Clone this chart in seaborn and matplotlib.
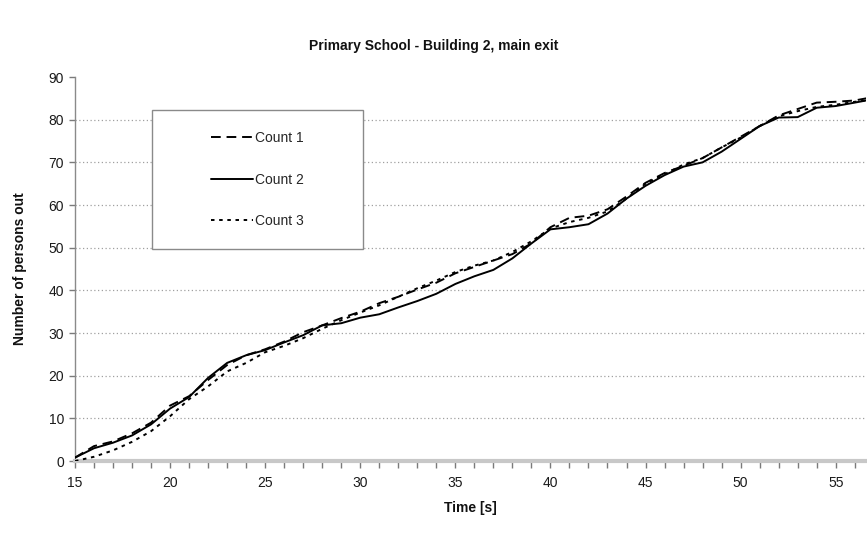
import matplotlib
matplotlib.use("Agg")
import matplotlib.pyplot as plt
import seaborn as sns
import pandas as pd
import numpy as np
from matplotlib.patches import Rectangle
from matplotlib.ticker import MultipleLocator

time_s = [15, 16, 17, 18, 19, 20, 21, 22, 23, 24, 25, 26, 27, 28, 29, 30, 31, 32, 33, 34, 35,
          36, 37, 38, 39, 40, 41, 42, 43, 44, 45, 46, 47, 48, 49, 50, 51, 52, 53, 54, 55, 56, 56.6]

count1 = [0.8, 3.5, 4.6, 6.5, 9.0, 13.0, 15.2, 19.0, 22.5, 24.8, 26.2, 28.0, 30.2, 31.8, 33.5,
          35.0, 37.0, 38.5, 40.2, 41.8, 44.0, 45.5, 47.0, 48.5, 51.0, 54.8, 57.0, 57.5, 59.0,
          62.0, 65.2, 67.5, 69.2, 71.0, 73.5, 76.0, 78.5, 81.0, 82.5, 84.0, 84.2, 84.5, 85.0]
count2 = [0.8, 3.0, 4.3, 6.0, 8.6, 12.3, 15.0, 19.5, 23.0, 24.8, 26.0, 27.8, 29.5, 31.8, 32.3,
          33.6, 34.4, 36.0, 37.5, 39.2, 41.5, 43.3, 44.8, 47.5, 51.0, 54.3, 54.8, 55.5, 58.0,
          61.5, 64.5, 67.0, 69.0, 70.0, 72.5, 75.5, 78.5, 80.5, 80.6, 82.8, 83.2, 84.0, 84.5]
count3 = [0.0, 1.0, 2.5, 4.5, 7.0, 10.5, 14.5, 17.5, 21.0, 23.0, 25.5, 27.0, 28.8, 31.0, 33.0,
          34.8, 36.5, 38.5, 40.5, 42.3, 44.3, 45.8, 47.0, 49.0, 51.5, 54.5, 56.0, 57.0, 58.5,
          61.5, 65.0, 67.2, 69.5, 71.0, 73.5, 75.8, 78.5, 80.8, 82.0, 83.0, 83.5, 84.2, 84.5]

series_names = ["Count 1", "Count 2", "Count 3"]
y_ticks = [0, 10, 20, 30, 40, 50, 60, 70, 80, 90]
x_ticks = [15, 20, 25, 30, 35, 40, 45, 50, 55]

df = pd.DataFrame({
    "Time": time_s * 3,
    "Persons": count1 + count2 + count3,
    "Count": [series_names[0]] * len(time_s) + [series_names[1]] * len(time_s) + [series_names[2]] * len(time_s),
})

sns.set_theme(style="white")
plt.rcParams['font.family'] = ['Liberation Sans', 'DejaVu Sans']

fig = plt.figure(figsize=(8.67, 5.33), dpi=100)
ax = fig.add_axes([0.0865, 0.135, 0.9125, 0.7205])

dash_map = {"Count 1": (5, 3), "Count 2": "", "Count 3": (1.8, 2.4)}
sns.lineplot(data=df, x="Time", y="Persons", style="Count", dashes=dash_map,
             color="black", linewidth=1.4, ax=ax, legend=True, zorder=3)

ax.set_xlim(15, 56.6)
ax.set_ylim(0, 90)
ax.set_xticks(x_ticks)
ax.set_yticks(y_ticks)
ax.xaxis.set_minor_locator(MultipleLocator(1))

ax.yaxis.grid(True, color="#a0a0a0", linestyle=(0, (1, 2)), linewidth=0.9)
ax.get_ygridlines()[-1].set_visible(False)
ax.get_ygridlines()[0].set_visible(False)
ax.set_axisbelow(True)

for s in ["top", "right"]:
    ax.spines[s].set_visible(False)
ax.spines["left"].set_color("#8a8a8a")
ax.spines["left"].set_linewidth(1.0)
ax.spines["bottom"].set_color("#c8c8c8")
ax.spines["bottom"].set_linewidth(3.0)

ax.tick_params(axis="both", which="both", direction="out", colors="#7a7a7a",
               labelcolor="#1a1a1a", labelsize=10, bottom=True, left=True)
ax.tick_params(axis="x", which="major", length=5, width=1, pad=6)
ax.tick_params(axis="x", which="minor", length=5, width=1)
ax.tick_params(axis="y", which="major", length=4, width=1, pad=4)

ax.set_xlabel("Time [s]", fontsize=10, fontweight="bold", labelpad=8, color="#111111")
ax.set_ylabel("Number of persons out", fontsize=10, fontweight="bold", labelpad=15, color="#111111")
fig.suptitle("Primary School - Building 2, main exit", fontsize=10, fontweight="bold",
             y=0.926, x=0.5, color="#111111")

handles, labels = ax.get_legend_handles_labels()
ax.get_legend().remove()
rect = Rectangle((0.097, 0.552), 0.267, 0.362, transform=ax.transAxes,
                 facecolor="white", edgecolor="#8a8a8a", linewidth=1.0, zorder=4)
ax.add_patch(rect)
leg = ax.legend(handles, labels, loc="center", bbox_to_anchor=(0.2307, 0.733),
                frameon=False, fontsize=10, labelspacing=2.0, handlelength=3.0,
                handletextpad=0.2)
leg.set_zorder(5)

fig.savefig("out.png", dpi=100, facecolor="white")
